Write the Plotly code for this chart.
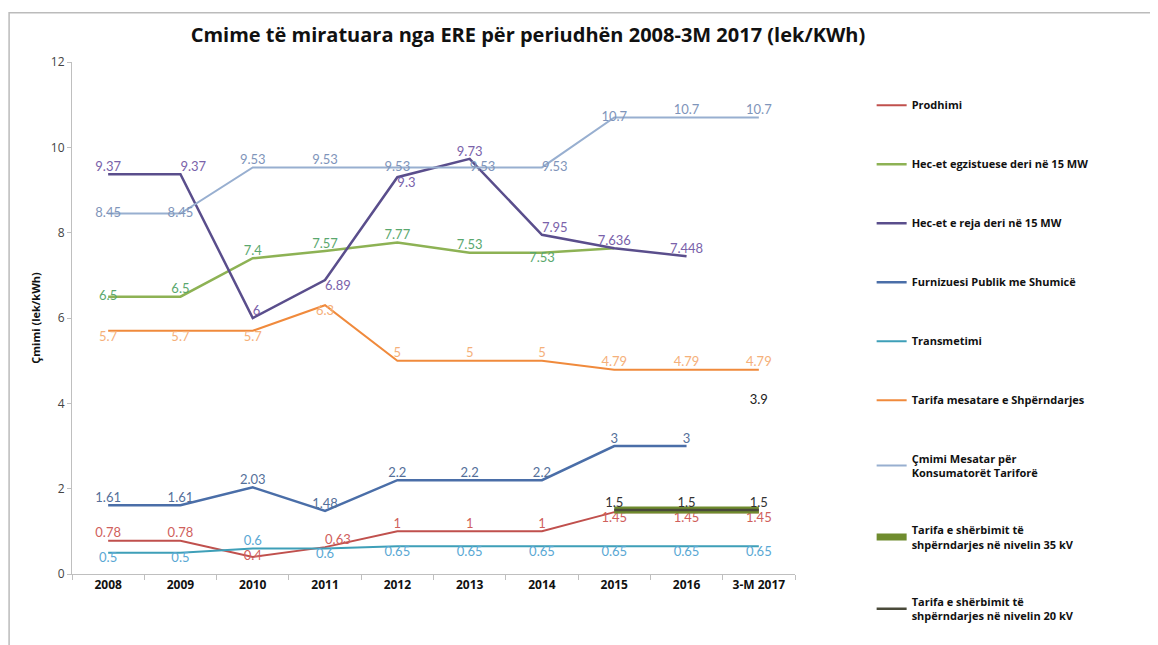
import plotly.graph_objs as go

years = ['2008', '2009', '2010', '2011', '2012', '2013', '2014', '2015', '2016', '3-M 2017']

prodhimi = [0.78, 0.78, 0.4, 0.63, 1, 1, 1, 1.45, 1.45, 1.45]
hec_egz = [6.5, 6.5, 7.4, 7.57, 7.77, 7.53, 7.53, 7.636, None, None]
hec_reja = [9.37, 9.37, 6, 6.89, 9.3, 9.73, 7.95, 7.636, 7.448, None]
furnizuesi = [1.61, 1.61, 2.03, 1.48, 2.2, 2.2, 2.2, 3, 3, None]
transmetimi = [0.5, 0.5, 0.6, 0.6, 0.65, 0.65, 0.65, 0.65, 0.65, 0.65]
tarifa_shp = [5.7, 5.7, 5.7, 6.3, 5, 5, 5, 4.79, 4.79, 4.79]
cmimi_mes = [8.45, 8.45, 9.53, 9.53, 9.53, 9.53, 9.53, 10.7, 10.7, 10.7]
tarifa_35 = [None, None, None, None, None, None, None, 1.5, 1.5, 1.5]
tarifa_20 = [None, None, None, None, None, None, None, 1.5, 1.5, 1.5]
extra_label_x = ['3-M 2017']
extra_label_y = [3.9]


def fmt(vals):
    return ['' if v is None else '{:g}'.format(v) for v in vals]


fig = go.Figure()

series = [
    # name, values, line colour, label colour, width, label positions, which labels to show
    ('Prodhimi', prodhimi, '#C0504D', '#D0605C', 2,
     ['top center', 'top center', 'middle center', 'top right', 'top center', 'top center',
      'top center', 'bottom center', 'bottom center', 'bottom center'], None),
    ('Hec-et egzistuese deri në 15 MW', hec_egz, '#8DB254', '#5AA86E', 2.5,
     ['middle center', 'top center', 'top center', 'top center', 'top center', 'top center',
      'bottom center', 'top center', 'top center', 'top center'], [1] * 7 + [0] * 3),
    ('Hec-et e reja deri në 15 MW', hec_reja, '#5A4E8C', '#7A62AA', 2.5,
     ['top center', 'top right', 'top right', 'bottom right', 'bottom right', 'top center',
      'top right', 'top center', 'top center', 'top center'], None),
    ('Furnizuesi Publik me Shumicë', furnizuesi, '#4A6EA8', '#55709A', 2.5,
     ['top center'] * 10, None),
    ('Transmetimi', transmetimi, '#3E9FB8', '#5AA8D4', 2,
     ['bottom center', 'bottom center', 'top center', 'bottom center'] + ['bottom center'] * 6, None),
    ('Tarifa mesatare e Shpërndarjes', tarifa_shp, '#F08A3C', '#F5B07A', 2,
     ['bottom center'] * 4 + ['top center'] * 6, None),
    ('Çmimi Mesatar për<br>Konsumatorët Tariforë', cmimi_mes, '#98AFD0', '#7F95BA', 2,
     ['middle center', 'middle center', 'top center', 'top center', 'middle center', 'middle right',
      'middle right', 'middle center', 'top center', 'top center'], None),
    ('Tarifa e shërbimit të<br>shpërndarjes në nivelin 35 kV', tarifa_35, '#6F8C2E', '#333333', 7,
     ['top center'] * 10, [0] * 7 + [1, 0, 0]),
    ('Tarifa e shërbimit të<br>shpërndarjes në nivelin 20 kV', tarifa_20, '#4A4A3A', '#333333', 2.5,
     ['top center'] * 10, [0] * 7 + [0, 1, 1]),
]

for name, vals, color, lcolor, width, pos, show in series:
    text = fmt(vals)
    if show is not None:
        text = [t if s else '' for t, s in zip(text, show)]
    fig.add_trace(go.Scatter(
        x=years,
        y=vals,
        mode='lines+text',
        name=name,
        legendgroup=name,
        text=text,
        textposition=pos,
        textfont=dict(family='Lato, Open Sans, sans-serif', size=13, color=lcolor),
        line=dict(color=color, width=width),
        cliponaxis=False,
    ))

fig.add_trace(go.Scatter(
    x=extra_label_x,
    y=extra_label_y,
    mode='text',
    text=fmt(extra_label_y),
    textposition='top center',
    textfont=dict(family='Lato, Open Sans, sans-serif', size=13, color='#222222'),
    showlegend=False,
    cliponaxis=False,
))

fig.add_shape(type='rect', xref='paper', yref='paper',
              x0=-0.087, y0=-0.3, x1=1.7, y1=1.096,
              line=dict(color='#BBBBBB', width=1.5), layer='below')

fig.update_layout(
    title=dict(
        text='<b>Cmime të miratuara nga ERE për periudhën 2008-3M 2017 (lek/KWh)</b>',
        x=0.449, xanchor='center', y=0.958, yanchor='middle',
        font=dict(family='Open Sans, sans-serif', size=20, color='#111111'),
    ),
    width=1158,
    height=645,
    margin=dict(l=64, r=371, t=54, b=79, autoexpand=False),
    paper_bgcolor='rgb(255, 255, 255)',
    plot_bgcolor='rgb(255, 255, 255)',
    showlegend=True,
    legend=dict(
        x=1.106, xanchor='left', y=0.944, yanchor='top',
        maxheight=600,
        font=dict(family='Open Sans, sans-serif', size=11, color='#111111', weight='bold'),
        tracegroupgap=40,
        itemwidth=30,
        bgcolor='rgba(0,0,0,0)',
    ),
    xaxis=dict(
        type='category',
        automargin=False,
        showline=True,
        linecolor='#BFBFBF',
        showgrid=False,
        zeroline=False,
        ticks='outside',
        tickson='boundaries',
        ticklen=5,
        tickcolor='#BFBFBF',
        tickfont=dict(family='Open Sans, sans-serif', size=12, color='#111111', weight='bold'),
    ),
    yaxis=dict(
        automargin=False,
        title=dict(text='<b>Çmimi (lek/kWh)</b>', font=dict(family='Open Sans, sans-serif', size=11, color='#111111'),
                   standoff=8),
        range=[0, 12],
        dtick=2,
        showline=True,
        linecolor='#BFBFBF',
        showgrid=False,
        zeroline=False,
        ticks='outside',
        ticklen=4,
        tickcolor='#BFBFBF',
        tickfont=dict(family='Open Sans, sans-serif', size=12, color='#444444'),
    ),
)

fig.write_html("out.html")
